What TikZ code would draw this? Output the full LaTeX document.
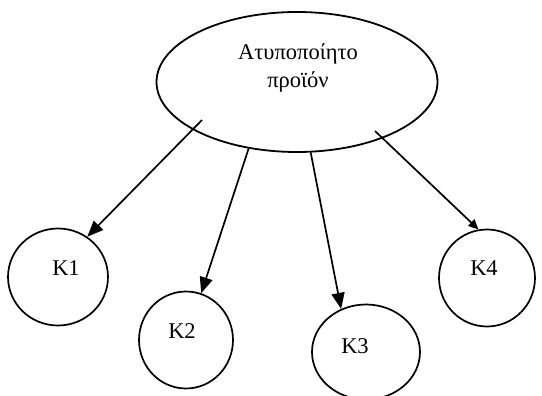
\documentclass[tikz,border=0pt]{standalone}
\usepackage{fontspec}
\setmainfont{Liberation Serif}
\usetikzlibrary{shapes.geometric,arrows.meta}

\tikzset{
  oval/.style={draw,ellipse,line width=1.8pt,minimum width=281pt,minimum height=140pt,inner sep=0pt},
  kcircle/.style={draw,ellipse,line width=1.7pt,inner sep=0pt},
  arr/.style={line width=1.7pt,-{Triangle[length=16pt,width=13pt]}},
  lbl/.style={font=\fontsize{22.5}{28}\selectfont,align=center,inner sep=0pt}
}

\begin{document}
\begin{tikzpicture}[x=1pt,y=-1pt]
        \useasboundingbox (0,0) rectangle (542,396);

        \node[oval] (product) at (297,82) {};
        \node[lbl] (productlabel) at (298,68) {Ατυποποίητο\\προϊόν};

        \node[kcircle,minimum width=100pt,minimum height=97pt] (k1) at (58,277) {};
        \node[kcircle,minimum width=94pt,minimum height=97pt] (k2) at (186,340) {};
        \node[kcircle,minimum width=108pt,minimum height=95pt] (k3) at (366,352) {};
        \node[kcircle,minimum width=96pt,minimum height=97pt] (k4) at (487,278) {};

        \node[lbl] (k1label) at (66,268) {K1};
        \node[lbl] (k2label) at (182,331) {K2};
        \node[lbl] (k3label) at (355,346) {K3};
        \node[lbl] (k4label) at (484,268) {K4};

        \coordinate (s1) at (202,120); % starts inside the oval
        \coordinate (s4) at (375,131);

        \draw[arr] (s1) -- (k1.54);
        \draw[arr] (product.234) -- (k2.72);
        \draw[arr] (product.281) -- (k3.120);
        \draw[arr,-{Triangle[length=10pt,width=9pt]}] (s4) -- (k4.100);
\end{tikzpicture}
\end{document}
